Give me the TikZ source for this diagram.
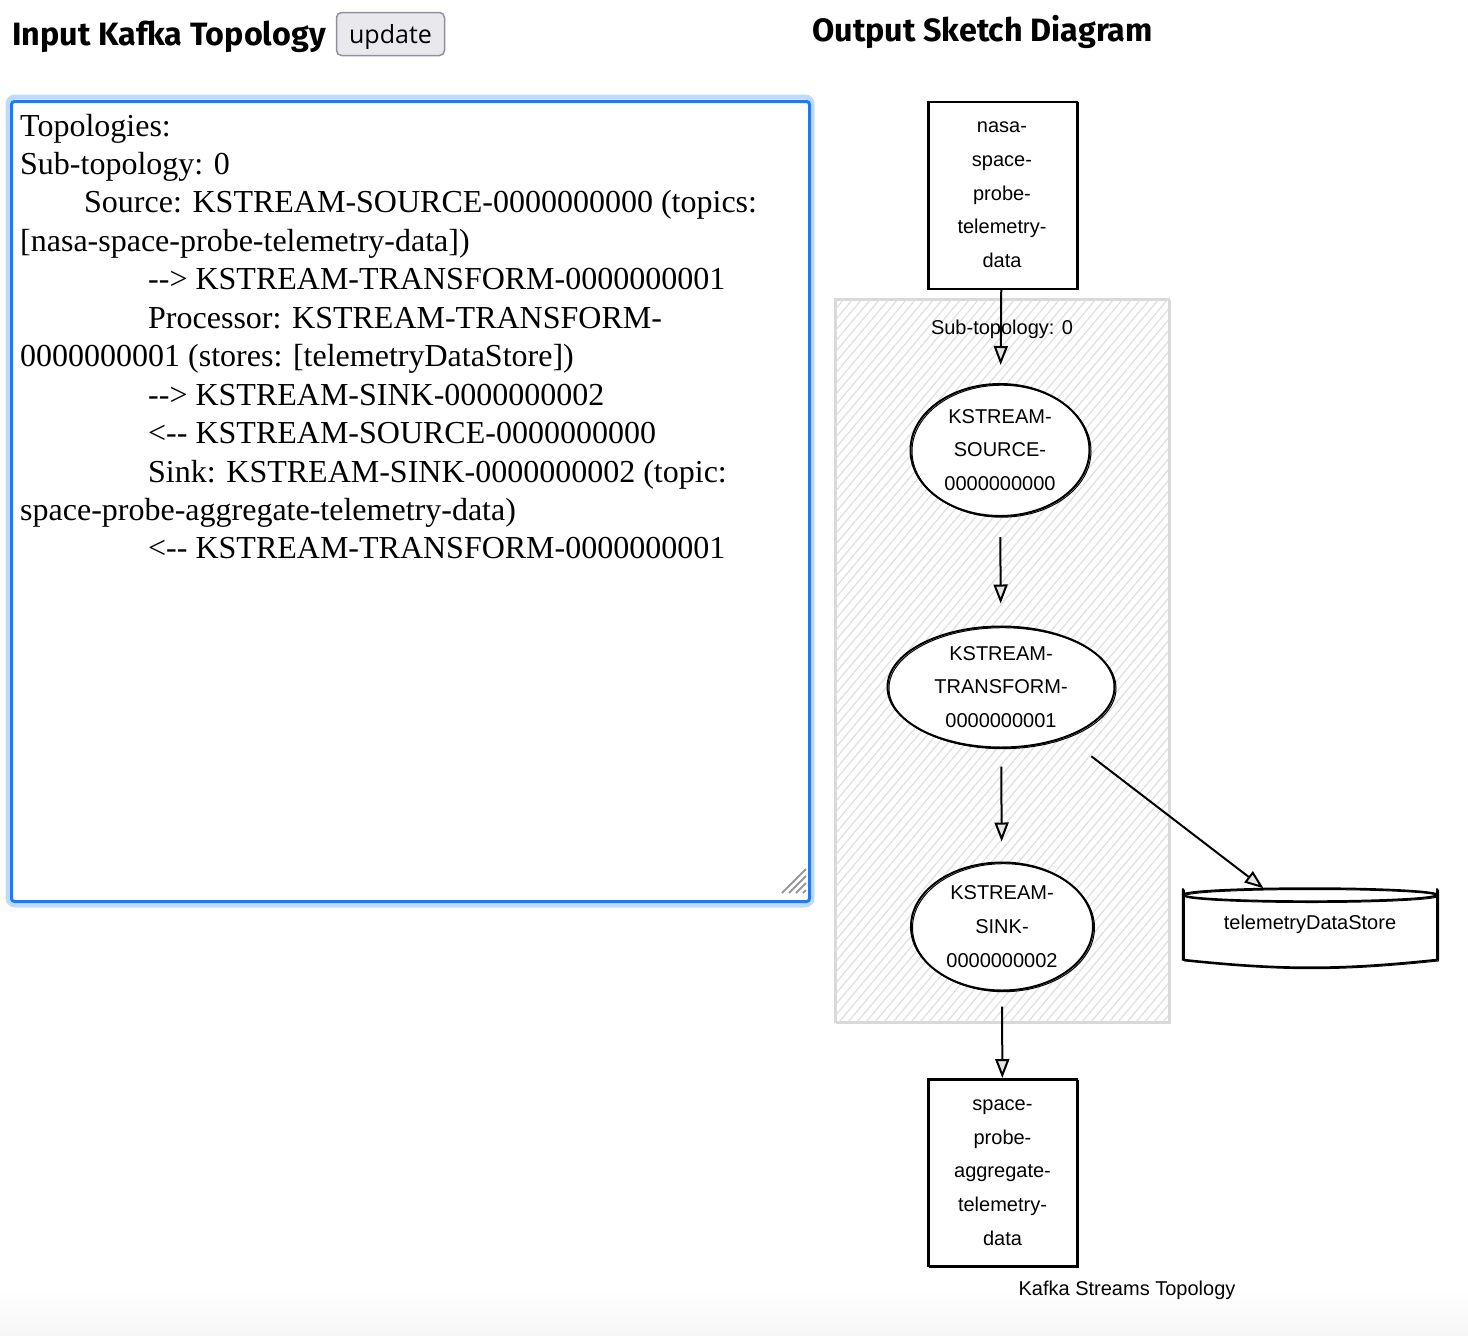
\documentclass[tikz,border=0pt]{standalone}
\usepackage{fontspec}
\setmainfont{Liberation Serif}
\newfontfamily\sketchfont{Liberation Sans}
\newfontfamily\headfont{Fira Sans}
\newfontfamily\buttonfont{Open Sans}
\usetikzlibrary{arrows.meta, shapes.geometric, positioning}
\definecolor{focusblue}{HTML}{1A7CFA}
\definecolor{focusglow}{HTML}{BEDBFD}
\definecolor{btnfill}{HTML}{E9E9ED}
\definecolor{btnline}{HTML}{8F8F9D}

\begin{document}
\begin{tikzpicture}[x = 1pt, y = -1pt,
    every node/.style = {inner sep = 0pt},
    rough/.style = {postaction = {draw, line width = 1pt, transform canvas = {shift = {(1.5pt, -1.2pt)}}}},
    heading/.style = {anchor = base west, font = \headfont\bfseries\fontsize{32.3}{38}\selectfont},
    codeline/.style = {anchor = base west, font = \fontsize{32}{38}\selectfont},
    sketch/.style = {align = center, font = \sketchfont\fontsize{20}{33.7}\selectfont},
    topic/.style = {sketch, draw, fill = white, line width = 2pt, rough, minimum width = 149pt, minimum height = 187pt},
    processor/.style = {sketch, ellipse, draw, fill = white, line width = 2pt, rough},
    flow/.style = {-{Triangle[length = 19pt, width = 14pt, fill = gray!20]}, line width = 2pt}]

    \useasboundingbox (0, 0) rectangle (1468, 1336);
    \shade[top color = white, bottom color = gray!7] (0, 1290) rectangle (1468, 1336);

    \node[heading] (intitle)  at (12, 45)  {Input Kafka Topology};
    \node[heading] (outtitle) at (812, 41) {Output Sketch Diagram};
    \node[draw = btnline, fill = btnfill, line width = 1.5pt, rounded corners = 5pt,
          minimum width = 108pt, minimum height = 43pt] (button) at (390.5, 34) {};
    \node[anchor = base, font = \buttonfont\fontsize{25}{30}\selectfont] (update) at (390.5, 43) {update};

    \draw[focusglow, line width = 5pt, rounded corners = 7pt] (8, 97) rectangle (812, 905);
    \draw[focusblue, line width = 3pt, rounded corners = 3pt, fill = white] (11.5, 101.5) rectangle (809.5, 901.5);
    \foreach \a/\b in {782/24, 789/17, 796/10, 803/3}
        \draw[gray!80, line width = 1.8pt] (\a, 893) -- ++(\b, -\b);

    \foreach \x/\t [count = \i] in {
        20/{Topologies:},
        20/{Sub-topology: 0},
        84/{Source: KSTREAM-SOURCE-0000000000 (topics:},
        20/{[nasa-space-probe-telemetry-data])},
        148/{-{}-> KSTREAM-TRANSFORM-0000000001},
        148/{Processor: KSTREAM-TRANSFORM-},
        20/{0000000001 (stores: [telemetryDataStore])},
        148/{-{}-> KSTREAM-SINK-0000000002},
        148/{<-{}- KSTREAM-SOURCE-0000000000},
        148/{Sink: KSTREAM-SINK-0000000002 (topic:},
        20/{space-probe-aggregate-telemetry-data)},
        148/{<-{}- KSTREAM-TRANSFORM-0000000001}}
        \node[codeline] (l\i) at (\x, 97.55 + 38.45*\i) {\t};

    \draw[gray!30, line width = 2pt, rough] (835, 299) rectangle (1169, 1022);
    \begin{scope}
        \clip (835, 299) rectangle (1169, 1022);
        \foreach \i in {0,...,105}
            \draw[gray!25, line width = 1.2pt] (227 + 9*\i, 1022) -- ++(608, -723);
    \end{scope}
    \node[sketch] (sub) at (1002, 329) {Sub-topology: 0};

    \node[topic] (in) at (1002, 195) {nasa-\\space-\\probe-\\telemetry-\\data};
    \node[processor, minimum width = 179pt, minimum height = 132pt] (src)   at (1000, 450) {KSTREAM-\\SOURCE-\\0000000000};
    \node[processor, minimum width = 227pt, minimum height = 121pt] (trans) at (1001, 687) {KSTREAM-\\TRANSFORM-\\0000000001};
    \node[processor, minimum width = 182pt, minimum height = 128pt] (sink)  at (1002, 926.5) {KSTREAM-\\SINK-\\0000000002};
    \node[topic] (out) at (1002.5, 1172.5) {space-\\probe-\\aggregate-\\telemetry-\\data};

    \node[sketch, fill = white, minimum width = 254pt, minimum height = 71pt] (store) at (1310, 924) {telemetryDataStore};
    \draw[line width = 2pt, rough] (store.north west) -- (store.south west) to[bend right = 6] (store.south east) -- (store.north east);
    \draw[line width = 2pt, rough] ([yshift = -6.5pt]store.north) ellipse [x radius = 127pt, y radius = 6.5pt];

    \node[sketch] (caption) at (1127, 1290) {Kafka Streams Topology};

    \draw[flow, shorten > = 18pt]                    (in)    -- (src);
    \draw[flow, shorten < = 20pt, shorten > = 22pt]  (src)   -- (trans);
    \draw[flow, shorten < = 18pt, shorten > = 20pt]  (trans) -- (sink);
    \draw[flow, shorten < = 15pt]                    (sink)  -- (out);
    \draw[flow, shorten < = 31pt]                    (trans) -- (store);

\end{tikzpicture}
\end{document}
